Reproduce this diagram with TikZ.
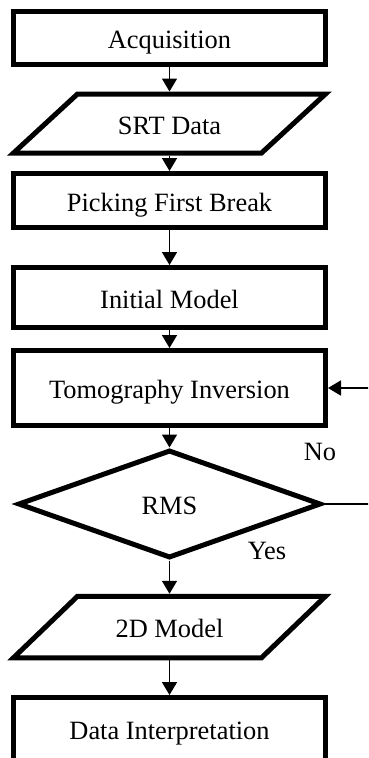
\documentclass[tikz,border=0pt]{standalone}
\usepackage{fontspec}
\setmainfont{Liberation Serif}
\usetikzlibrary{shapes.geometric,arrows.meta}
\begin{document}
\begin{tikzpicture}[x=1pt,y=-1pt,
  font=\fontsize{26.4}{30}\selectfont,
  boxtext/.style={text height=21pt, text depth=0pt},
  procbox/.style={draw, line width=5pt, rectangle, minimum width=312pt, inner sep=0pt, boxtext},
  iotext/.style={rectangle, minimum width=248pt, inner sep=0pt, outer sep=2.5pt, boxtext},
  iobox/.style={line width=5pt, line join=miter},
  decision/.style={draw, diamond, line width=5pt, minimum width=303pt, minimum height=108pt, inner sep=0pt, boxtext},
  flow/.style={line width=1.8pt, -{Triangle[length=13pt,width=15pt]}},
  lbl/.style={anchor=base}]
\useasboundingbox (0,0) rectangle (368,758);
\fill[white] (0,0) rectangle (368,758);
\clip (0,0) rectangle (368,758);
\node[procbox, minimum height=52.5pt] (acq) at (169.5,38) {Acquisition};
\node[iotext, minimum height=59pt] (srt) at (169.5,123.5) {SRT Data};
\draw[iobox, shift={(srt.center)}] (-92,-29.5) -- (156,-29.5) -- (92,29.5) -- (-156,29.5) -- cycle;
\node[procbox, minimum height=54pt] (pick) at (169.5,200.5) {Picking First Break};
\node[procbox, minimum height=60pt] (init) at (169.5,297.5) {Initial Model};
\node[procbox, minimum height=75pt] (tomo) at (169.5,388) {Tomography Inversion};
\node[decision] (rms) at (169.5,504) {RMS};
\node[iotext, minimum height=61.5pt] (twod) at (169.5,627) {2D Model};
\draw[iobox, shift={(twod.center)}] (-92,-30.75) -- (156,-30.75) -- (92,30.75) -- (-156,30.75) -- cycle;
\node[procbox, minimum height=63pt] (interp) at (169.5,729) {Data Interpretation};
\node[lbl] (no) at (320,460) {No};
\node[lbl] (yes) at (267,559) {Yes};
\draw[flow] (acq.south) -- (srt.north);
\draw[flow] (srt.south) -- (pick.north);
\draw[flow] (pick.south) -- (init.north);
\draw[flow] (init.south) -- (tomo.north);
\draw[flow] (tomo.south) -- (rms.north);
\draw[flow] (rms.south) -- (twod.north);
\draw[flow] (twod.south) -- (interp.north);
\coordinate (loopturn) at (395,504);
\draw[flow] (rms.east) -- (loopturn) |- (tomo.east);
\end{tikzpicture}
\end{document}
